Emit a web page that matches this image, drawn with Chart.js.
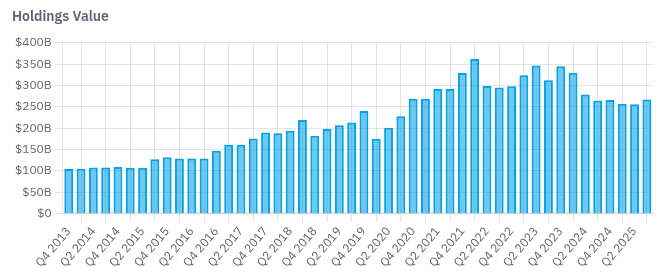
<!DOCTYPE html>
<html>
<head>
<meta charset="utf-8">
<script src="https://cdn.jsdelivr.net/npm/chart.js@4"></script>
<style>
  html, body { margin: 0; padding: 0; background: #fff; }
  #wrap { width: 660px; height: 277px; position: relative; }
</style>
</head>
<body>
<div id="wrap"><canvas id="chart"></canvas></div>
<script>
// quarters Q4 2013 .. Q3 2025
const quarters = [];
for (let y = 2013; y <= 2025; y++) {
  for (let q = 1; q <= 4; q++) {
    if (y === 2013 && q < 4) continue;
    if (y === 2025 && q > 3) continue;
    quarters.push('Q' + q + ' ' + y);
  }
}

// holdings value, $ billions
const holdings = [
  104, 105, 108, 108, 109, 107, 107, 127, 132, 129, 129, 129,
  147, 161, 161, 176, 190, 188, 194, 219, 182, 198, 207, 213,
  240, 175, 201, 228, 269, 269, 292, 292, 329, 362, 299, 295,
  298, 324, 347, 312, 345, 330, 279, 265, 266, 257, 256, 267
];

const yTicks = { min: 0, max: 400, step: 50 };

Chart.defaults.font.family = "'IBM Plex Sans', 'Noto Sans', sans-serif";
Chart.defaults.font.size = 12;
Chart.defaults.color = '#666';

new Chart(document.getElementById('chart'), {
  type: 'bar',
  data: {
    labels: quarters,
    datasets: [{
      label: 'Holdings Value',
      data: holdings,
      backgroundColor: 'rgba(14, 165, 233, 0.6)',
      borderColor: 'rgb(6, 162, 230)',
      borderWidth: 2
    }]
  },
  options: {
    responsive: true,
    maintainAspectRatio: false,
    animation: false,
    layout: { padding: { left: 12, right: 7, top: 9, bottom: 4 } },
    plugins: {
      legend: { display: false },
      tooltip: { enabled: false },
      title: {
        display: true,
        text: 'Holdings Value',
        align: 'start',
        color: '#5b6472',
        font: { size: 14, weight: '600' },
        padding: { top: 0, bottom: 17 }
      }
    },
    scales: {
      x: {
        ticks: { maxRotation: 50, minRotation: 50 }
      },
      y: {
        min: yTicks.min,
        max: yTicks.max,
        ticks: {
          stepSize: yTicks.step,
          callback: v => '$' + v + (v === 0 ? '' : 'B')
        }
      }
    }
  }
});
</script>
</body>
</html>
